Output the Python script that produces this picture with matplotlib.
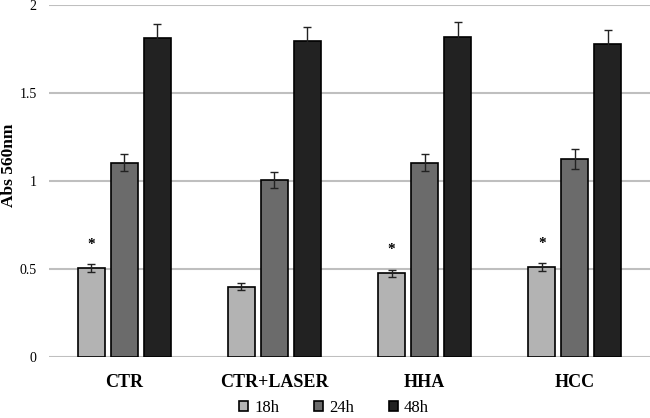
import numpy as np
import matplotlib.pyplot as plt

plt.rcParams['font.family'] = ['Liberation Serif', 'DejaVu Serif']

groups = ["CTR", "CTR+LASER", "HHA", "HCC"]
series = ["18h", "24h", "48h"]
vals_18 = [0.505, 0.40, 0.475, 0.51]
vals_24 = [1.105, 1.005, 1.105, 1.125]
vals_48 = [1.81, 1.795, 1.82, 1.78]
err_18 = [0.022, 0.018, 0.02, 0.022]
err_24 = [0.05, 0.045, 0.05, 0.055]
err_48 = [0.08, 0.08, 0.085, 0.08]
star_18 = [True, False, True, True]

colors = ["#b3b3b3", "#6b6b6b", "#222222"]

fig = plt.figure(figsize=(6.5, 4.18), dpi=100)
ax = fig.add_axes([49/650, 1 - 357/418, 1 - 49/650, 352/418])

x = np.arange(len(groups))
w = 0.18
step = 0.22
for i, (v, e, c, lab) in enumerate(zip([vals_18, vals_24, vals_48], [err_18, err_24, err_48], colors, series)):
    ax.bar(x + (i - 1) * step, v, w, color=c, edgecolor="black", linewidth=1.2, label=lab, zorder=3,
           yerr=e, error_kw=dict(ecolor="#222222", capsize=3, elinewidth=1, capthick=1))

for xi, v, e, s in zip(x, vals_18, err_18, star_18):
    if s:
        ax.text(xi - step, v + 0.1, "*", ha="center", va="bottom", fontsize=11, fontweight="bold")

ax.set_xlim(-0.5, 3.5)
ax.set_ylim(0, 2)
ax.set_yticks([0, 0.5, 1, 1.5, 2])
ax.set_yticklabels(["0", "0.5", "1", "1.5", "2"])
ax.yaxis.grid(True, color="#bfbfbf", linewidth=1.5, zorder=0)
ax.set_axisbelow(True)
for s in ax.spines.values():
    s.set_visible(False)
ax.tick_params(length=0, labelsize=10)
ax.tick_params(axis="y", pad=9)
ax.set_xticks(x)
ax.set_xticklabels(groups, fontsize=13, fontweight="bold")
ax.tick_params(axis="x", pad=12)
fig.text(9/650, 1 - 165/418, "Abs 560nm", rotation=90, ha="center", va="center",
         fontsize=12.5, fontweight="bold")
fig.legend(*ax.get_legend_handles_labels(), loc="center", bbox_to_anchor=(334/650, 10/418), ncol=3,
           frameon=False, fontsize=12, handlelength=0.55, handleheight=0.55, columnspacing=2.1,
           handletextpad=0.35)

fig.savefig("out.png", dpi=100)
